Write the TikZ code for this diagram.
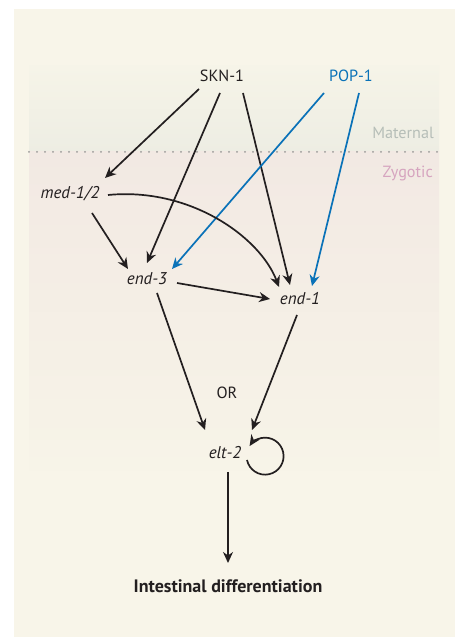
\documentclass[tikz,border=0pt]{standalone}
\usepackage{fontspec}
\setmainfont{PT Sans}
\usetikzlibrary{arrows.meta}
\definecolor{outerbg}{HTML}{F8F5E9}
\definecolor{matbg}{HTML}{EDEDE3}
\definecolor{mattop}{HTML}{F6F4E8}
\definecolor{zygbg}{HTML}{F2E9E3}
\definecolor{zygbot}{HTML}{F7F4E8}
\definecolor{ink}{HTML}{231F20}
\definecolor{popblue}{HTML}{0A72B8}
\definecolor{matgray}{HTML}{B6BEB8}
\definecolor{zygpink}{HTML}{D6A4BF}
\definecolor{dotgray}{HTML}{9A9A98}
\tikzset{
  lbl/.style={inner sep=0pt, font=\fontsize{16.2}{19}\selectfont, text=ink},
  gene/.style={lbl, font=\fontsize{17}{20}\selectfont\itshape},
  arr/.style={draw=ink, line width=1.7pt, -{Stealth[length=11pt,width=10pt,inset=3.5pt]}},
  barr/.style={arr, draw=popblue}
}
\begin{document}
\begin{tikzpicture}[x=1pt,y=1pt]
\useasboundingbox (0,0) rectangle (457,637);
\fill[white] (0,0) rectangle (457,637);
\fill[outerbg] (14,0) rectangle (455,628);
\shade[top color=mattop, bottom color=matbg] (29,485) rectangle (439,571);
\shade[top color=zygbg, bottom color=zygbot, middle color=zygbg!50!zygbot] (29,166) rectangle (439,485);
\draw[dotgray, line width=2pt, line cap=round, dash pattern=on 0pt off 8pt] (29,485) -- (439,485);
\node[lbl, text=matgray, anchor=east] (mat) at (434,504) {Maternal};
\node[lbl, text=zygpink, anchor=east] (zyg) at (433,464) {Zygotic};

\node[lbl] (skn) at (222,561) {SKN-1};
\node[lbl, text=popblue] (pop) at (351,561) {POP-1};
\node[gene] (med) at (70,443) {med-1/2};
\node[gene] (end3) at (147,358) {end-3};
\node[gene] (end1) at (300,338) {end-1};
\node[lbl] (or) at (227,244) {OR};
\node[gene] (elt2) at (225,184) {elt-2};
\node[lbl, font=\fontsize{18}{21}\selectfont\bfseries] (int) at (228,51) {Intestinal differentiation};

\draw[arr] ([shift={(-23,-13)}]skn.center) -- ([shift={(35,16)}]med.center);
\draw[arr] ([shift={(-2,-17)}]skn.center) -- ([shift={(0,16)}]end3.center);
\draw[arr] ([shift={(21,-17)}]skn.center) -- ([shift={(-10,14)}]end1.center);
\draw[barr] ([shift={(-27,-17)}]pop.center) -- ([shift={(25,10)}]end3.center);
\draw[barr] ([shift={(8,-17)}]pop.center) -- ([shift={(12,13)}]end1.center);
\draw[arr] ([shift={(22,-19)}]med.center) -- ([shift={(-19,10)}]end3.center);
\draw[arr] ([shift={(38,-1)}]med.center) .. controls (190,450) and (260,400) .. ([shift={(-21,12)}]end1.center);
\draw[arr] ([shift={(30,-4)}]end3.center) -- ([shift={(-30,0)}]end1.center);
\draw[arr] ([shift={(10,-14)}]end3.center) -- ([shift={(-20,23)}]elt2.center);
\draw[arr] ([shift={(-3,-16)}]end1.center) -- ([shift={(27,23)}]elt2.center);
\draw[arr] ([shift={(22,-7)}]elt2.center) arc[start angle=-168, end angle=147, radius=18.5];
\draw[arr] ([shift={(3,-19)}]elt2.center) -- ([shift={(0,23)}]int.center);
\end{tikzpicture}
\end{document}
